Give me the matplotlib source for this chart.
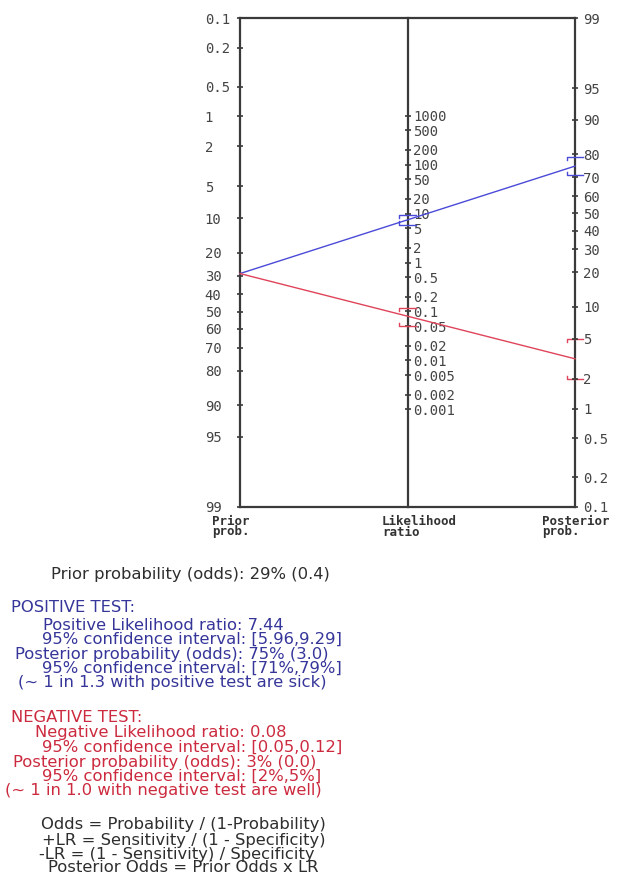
import numpy as np
import matplotlib
matplotlib.use("Agg")
import matplotlib.pyplot as plt

# ---------------- data ----------------
prior_ticks = [0.1, 0.2, 0.5, 1, 2, 5, 10, 20, 30, 40, 50, 60, 70, 80, 90, 95, 99]
prior_labels = ["0.1", "0.2", "0.5", "1", "2", "5", "10", "20", "30", "40", "50",
                "60", "70", "80", "90", "95", "99"]
lr_ticks = [1000, 500, 200, 100, 50, 20, 10, 5, 2, 1, 0.5, 0.2, 0.1, 0.05, 0.02,
            0.01, 0.005, 0.002, 0.001]
lr_labels = ["1000", "500", "200", "100", "50", "20", "10", "5", "2", "1", "0.5",
             "0.2", "0.1", "0.05", "0.02", "0.01", "0.005", "0.002", "0.001"]
post_ticks = [99, 95, 90, 80, 70, 60, 50, 40, 30, 20, 10, 5, 2, 1, 0.5, 0.2, 0.1]
post_labels = ["99", "95", "90", "80", "70", "60", "50", "40", "30", "20", "10",
               "5", "2", "1", "0.5", "0.2", "0.1"]

prior = 29.0
pos_lr = 7.44
pos_lr_ci = [5.96, 9.29]
pos_post = 75.0
pos_post_ci = [71.0, 79.0]
neg_lr = 0.08
neg_lr_ci = [0.05, 0.12]
neg_post = 3.0
neg_post_ci = [2.0, 5.0]

# ---------------- scales ----------------
def logit(p):
    p = np.asarray(p, dtype=float) / 100.0
    return np.log(p / (1 - p))

TOP = -float(logit(0.1))
BOT = -float(logit(99))
D = TOP - float(logit(99))

def yL(p):
    return -logit(p)

def yR(p):
    return logit(p) + D

def yM(lr):
    return np.log(np.asarray(lr, dtype=float)) / 2 + D / 2

W, H = 622, 877
fig = plt.figure(figsize=(W / 100, H / 100), dpi=100)
fig.patch.set_facecolor("white")

xl, xr, yt, yb = 240, 575, 18, 507
ax = fig.add_axes([xl / W, 1 - yb / H, (xr - xl) / W, (yb - yt) / H])
ax.set_xlim(0, 2)
ax.set_ylim(BOT, TOP)
ax.set_facecolor("white")

frame_col = "#3a3a3a"
for s in ax.spines.values():
    s.set_color(frame_col)
    s.set_linewidth(1.6)

tick_col = "#444444"
tick_font = dict(family="DejaVu Sans Mono", size=10)
ax.set_xticks([])
ax.set_yticks(yL(prior_ticks))
ax.set_yticklabels(prior_labels, **tick_font, color=tick_col)
ax.tick_params(axis="y", direction="inout", length=5, width=1.2, color=frame_col, pad=22.9)
for lab in ax.get_yticklabels():
    lab.set_ha("left")

axr = ax.twinx()
axr.set_ylim(BOT, TOP)
axr.set_yticks(yR(post_ticks))
axr.set_yticklabels(post_labels, **tick_font, color=tick_col)
axr.tick_params(axis="y", direction="inout", length=5, width=1.2, color=frame_col, pad=3.3)
for s in axr.spines.values():
    s.set_visible(False)

axm = ax.secondary_yaxis(0.5)
axm.set_yticks(yM(lr_ticks))
axm.set_yticklabels(lr_labels, **tick_font, color=tick_col)
axm.tick_params(axis="y", direction="inout", length=5, width=1.2, color=frame_col, pad=1.8)
for s in axm.spines.values():
    s.set_color(frame_col)
    s.set_linewidth(1.6)

# ---------------- lines ----------------
blue = "#4a4ad8"
red = "#e0445a"

def draw_test(lr, lr_ci, post, post_ci, col):
    y0 = float(yL(prior))
    y2 = float(yR(post))
    ax.plot([0, 2], [y0, y2], color=col, lw=1.0, zorder=3, clip_on=False)
    hw, hk = 0.048, 0.075
    for xc, (lo, hi) in [(1.0, (yM(lr_ci[0]), yM(lr_ci[1]))),
                         (2.0, (yR(post_ci[0]), yR(post_ci[1])))]:
        lo, hi = float(lo), float(hi)
        ax.plot([xc - hw, xc - hw, xc + hw], [hi - hk, hi, hi], color=col, lw=1.0,
                zorder=3, clip_on=False)
        ax.plot([xc - hw, xc - hw, xc + hw], [lo + hk, lo, lo], color=col, lw=1.0,
                zorder=3, clip_on=False)

# posterior from nomogram geometry (line through LR point)
draw_test(pos_lr, pos_lr_ci, 100 / (1 + 1 / (prior / (100 - prior) * pos_lr)), pos_post_ci, blue)
draw_test(neg_lr, neg_lr_ci, 100 / (1 + 1 / (prior / (100 - prior) * neg_lr)), neg_post_ci, red)

# ---------------- axis names ----------------
lab_font = dict(family="DejaVu Sans Mono", size=9, weight="bold", color="#333333",
                ha="left", va="top", linespacing=0.75)
fig.text(212 / W, 1 - 515 / H, "Prior\nprob.", **lab_font)
fig.text(382 / W, 1 - 515 / H, "Likelihood\nratio", **lab_font)
fig.text(542 / W, 1 - 515 / H, "Posterior\nprob.", **lab_font)

# ---------------- text block ----------------
txt_font = dict(family=["DejaVu Sans"], size=11.8, va="center", ha="left")
gray = "#2e2e2e"
tblue = "#35359a"
tred = "#cc2a3e"

def t(x, y, s, c, ha="left"):
    fig.text(x / W, 1 - y / H, s, color=c, **{**txt_font, "ha": ha})

t(190, 575, "Prior probability (odds): 29% (0.4)", gray, "center")

t(11, 607, "POSITIVE TEST:", tblue)
t(43, 625, "Positive Likelihood ratio: 7.44", tblue)
t(42, 639, "95% confidence interval: [5.96,9.29]", tblue)
t(15, 654, "Posterior probability (odds): 75% (3.0)", tblue)
t(42, 668, "95% confidence interval: [71%,79%]", tblue)
t(18, 683, "(~ 1 in 1.3 with positive test are sick)", tblue)

t(11, 718, "NEGATIVE TEST:", tred)
t(35, 733, "Negative Likelihood ratio: 0.08", tred)
t(42, 747, "95% confidence interval: [0.05,0.12]", tred)
t(13, 762, "Posterior probability (odds): 3% (0.0)", tred)
t(42, 776, "95% confidence interval: [2%,5%]", tred)
t(5, 791, "(~ 1 in 1.0 with negative test are well)", tred)

t(183, 825, "Odds = Probability / (1-Probability)", gray, "center")
t(184, 840, "+LR = Sensitivity / (1 - Specificity)", gray, "center")
t(177, 854, "-LR = (1 - Sensitivity) / Specificity", gray, "center")
t(183, 868, "Posterior Odds = Prior Odds x LR", gray, "center")

fig.savefig("out.png", dpi=100, facecolor="white")
